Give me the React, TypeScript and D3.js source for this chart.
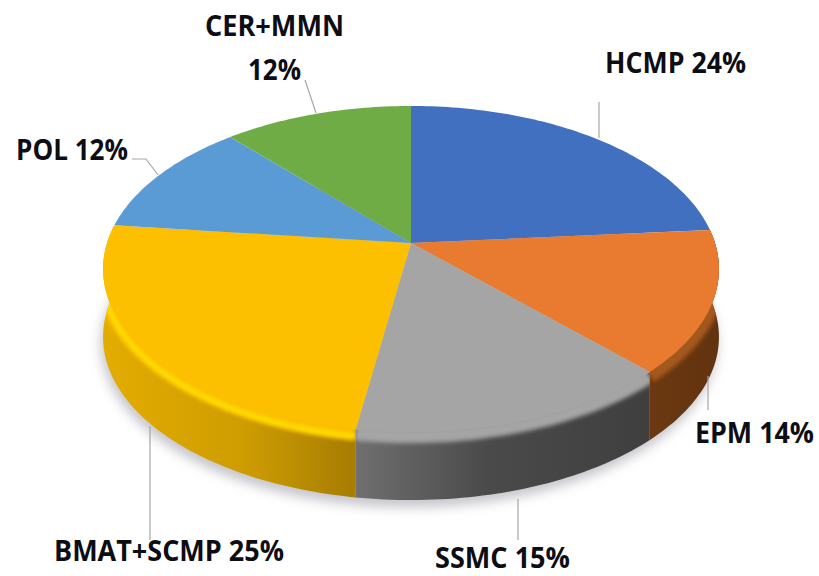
import React, { useMemo } from "react";
import * as d3 from "d3";

const width = 819;
const height = 576;

// categories and their slices
const categories = ["HCMP", "EPM", "SSMC", "BMAT+SCMP", "POL", "CER+MMN"];
const percentLabels = ["24%", "14%", "15%", "25%", "12%", "12%"];
const shares = [23.7, 14.1, 14.7, 24.4, 11.6, 11.6];
const faceColors = ["#4170c1", "#e97b30", "#a5a5a5", "#fdc000", "#5b9bd5", "#6fac46"];

// the slices whose side wall can be seen
const wallStops: Record<number, [string, number][]> = {
    1: [["#6b3811", 0], ["#62330f", 1]],
    2: [["#6f6f6f", 0], ["#4a4a4a", 0.45], ["#3f3f3f", 1]],
    3: [["#e3ac00", 0], ["#cf9d02", 0.55], ["#a67c02", 1]],
};
const rimColors: Record<number, string> = { 1: "#a5591f", 2: "#a5a5a5", 3: "#fdc000" };

// pie centre and the perspective of the tilted disc
const cx = 411;
const cy = 243;
const radiusX = 304;
const radiusY = 158.9;
const tilt = 0.1595;
const depth = 68;

const project = (a: number, dz = 0, r = 1): [number, number] => {
    const w = 1 + tilt * r * Math.cos(a);
    return [
        cx + (radiusX * r * Math.sin(a)) / w,
        cy - (radiusY * r * Math.cos(a)) / w + dz,
    ];
};

const line = d3.line<[number, number]>();

const arcPoints = (a0: number, a1: number, dz = 0) => {
    const n = Math.max(2, Math.ceil((a1 - a0) / 0.02));
    return d3.range(n + 1).map((i) => project(a0 + ((a1 - a0) * i) / n, dz));
};

// label placement: text box and its leader line
const labelLayout = [
    { lines: [{ x: 605, y: 73, w: 141, i: 0 }], leader: [[599, 102], [599, 138]] },
    { lines: [{ x: 695, y: 443, w: 119, i: 0 }], leader: [[708, 376], [708, 410]] },
    { lines: [{ x: 435, y: 568, w: 135, i: 0 }], leader: [[518, 499], [518, 540]] },
    { lines: [{ x: 54, y: 561, w: 230, i: 0 }], leader: [[150, 426], [150, 540]] },
    { lines: [{ x: 16, y: 160, w: 112, i: 0 }], leader: [[132, 159], [146, 159], [158, 175]] },
    {
        lines: [
            { x: 205, y: 36, w: 139, i: 1 },
            { x: 248, y: 80, w: 53, i: 2 },
        ],
        leader: [[305, 80], [316, 113]],
    },
];

const labelText = (index: number, part: number) => {
    if (part === 1) return categories[index];
    if (part === 2) return percentLabels[index];
    return `${categories[index]} ${percentLabels[index]}`;
};

export default function App() {
    const slices = useMemo(() => d3.pie<number>().sort(null)(shares), []);

    const facePath = (s: d3.PieArcDatum<number>) =>
        `${line([[cx, cy], ...arcPoints(s.startAngle, s.endAngle)])}Z`;

    const wallPath = (s: d3.PieArcDatum<number>) =>
        `${line([
            ...arcPoints(s.startAngle, s.endAngle),
            ...arcPoints(s.startAngle, s.endAngle, depth).reverse(),
        ])}Z`;

    const wallSlices = slices.filter((_, i) => wallStops[i]);
    const full = arcPoints(0, 2 * Math.PI, depth);

    return (
        <svg
            width={width}
            height={height}
            style={{ position: "absolute", top: 0, left: 0, background: "#fff" }}
        >
            <defs>
                <filter id="shadowBlur" x="-10%" y="-10%" width="120%" height="120%">
                    <feGaussianBlur stdDeviation={6} />
                </filter>
                <filter id="rimBlur" x="-10%" y="-20%" width="120%" height="140%">
                    <feGaussianBlur stdDeviation={2} />
                </filter>
                {wallSlices.map((s) => {
                    const xs = arcPoints(s.startAngle, s.endAngle).map((p) => p[0]);
                    const [x0, x1] = d3.extent(xs) as [number, number];
                    return (
                        <linearGradient
                            key={s.index}
                            id={`wall${s.index}`}
                            gradientUnits="userSpaceOnUse"
                            x1={x0}
                            x2={x1}
                            y1={0}
                            y2={0}
                        >
                            {wallStops[s.index].map(([c, o]) => (
                                <stop key={o} offset={o} stopColor={c} />
                            ))}
                        </linearGradient>
                    );
                })}
                {wallSlices.map((s) => (
                    <clipPath key={s.index} id={`clip${s.index}`}>
                        <path d={wallPath(s)} />
                        <path d={facePath(s)} />
                    </clipPath>
                ))}
            </defs>

            <path
                d={`${line(full)}Z`}
                transform="translate(-2,7)"
                fill="#c4c4ca"
                filter="url(#shadowBlur)"
            />

            {wallSlices.map((s) => (
                <path key={s.index} d={wallPath(s)} fill={`url(#wall${s.index})`} />
            ))}

            {/* soft bevel between the top face and the wall */}
            {wallSlices.map((s) => {
                const rim = line(arcPoints(s.startAngle, s.endAngle, 4)) as string;
                const glow = line(arcPoints(s.startAngle, s.endAngle, 7)) as string;
                return (
                    <g key={s.index} clipPath={`url(#clip${s.index})`}>
                        <path
                            d={rim}
                            fill="none"
                            stroke={rimColors[s.index]}
                            strokeWidth={14}
                            filter="url(#rimBlur)"
                        />
                        {s.index === 3 && (
                            <path
                                d={glow}
                                fill="none"
                                stroke="#ffe600"
                                strokeWidth={4}
                                filter="url(#rimBlur)"
                            />
                        )}
                    </g>
                );
            })}

            {slices.map((s) => (
                <path key={s.index} d={facePath(s)} fill={faceColors[s.index]} />
            ))}

            {labelLayout.map((l, i) => (
                <path
                    key={`leader${i}`}
                    d={line(l.leader as [number, number][]) as string}
                    fill="none"
                    stroke="#a6a6a6"
                    strokeWidth={1.2}
                />
            ))}

            {labelLayout.map((l, i) =>
                l.lines.map((t) => (
                    <text
                        key={`${i}-${t.i}`}
                        x={t.x}
                        y={t.y}
                        textLength={t.w}
                        lengthAdjust="spacingAndGlyphs"
                        fontFamily="'Open Sans', sans-serif"
                        fontWeight={700}
                        fontSize={28}
                        fill="#0d0d14"
                    >
                        {labelText(i, t.i)}
                    </text>
                ))
            )}
        </svg>
    );
}
